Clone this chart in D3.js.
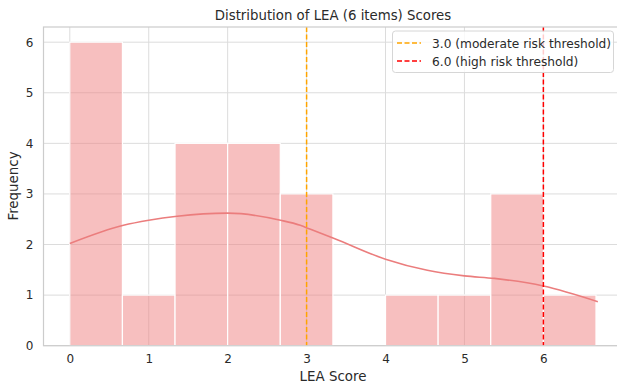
<!DOCTYPE html>
<html><head><meta charset="utf-8">
<script src="https://cdn.jsdelivr.net/npm/d3@7/dist/d3.min.js"></script>
<style>body{margin:0;background:#fff}svg{font-family:"DejaVu Sans",sans-serif}</style>
</head><body>
<script>
const binEdges = [0, 2/3, 4/3, 2, 8/3, 10/3, 4, 14/3, 16/3, 6, 20/3];
const counts = [6, 1, 4, 4, 3, 0, 1, 1, 3, 1];
const kdeX = [0, 0.68, 1, 1.36, 2, 2.67, 2.92, 3.05, 3.35, 4, 4.53, 5, 5.38, 6, 6.69];
const kdeY = [2.02, 2.38, 2.48, 2.56, 2.62, 2.48, 2.38, 2.30, 2.12, 1.71, 1.49, 1.38, 1.33, 1.18, 0.87];
const xTicks = [0, 1, 2, 3, 4, 5, 6];
const yTicks = [0, 1, 2, 3, 4, 5, 6];
const thresholds = [3.0, 6.0];
const thresholdLabels = ["3.0 (moderate risk threshold)", "6.0 (high risk threshold)"];
const thresholdColors = ["orange", "red"];

const W = 617, H = 383;
const svg = d3.select("body").append("svg").attr("width", W).attr("height", H);
const mLeft = 43.5, mTop = 27, mBottom = 345.7;
const x = d3.scaleLinear().domain([-1/3, 7]).range([mLeft, 70 + 7 * 78.9]);
const y = d3.scaleLinear().domain([0, 6.3]).range([mBottom, mTop]);

// grid
svg.append("g").selectAll("line").data(xTicks).join("line")
  .attr("x1", d => x(d)).attr("x2", d => x(d)).attr("y1", mTop).attr("y2", mBottom)
  .attr("stroke", "#dcdcdc").attr("stroke-width", 1);
svg.append("g").selectAll("line").data(yTicks).join("line")
  .attr("y1", d => y(d)).attr("y2", d => y(d)).attr("x1", mLeft).attr("x2", W)
  .attr("stroke", "#dcdcdc").attr("stroke-width", 1);

// bars
svg.append("g").selectAll("rect").data(counts).join("rect")
  .attr("x", (d, i) => x(binEdges[i]))
  .attr("width", (d, i) => x(binEdges[i + 1]) - x(binEdges[i]))
  .attr("y", d => y(d)).attr("height", d => y(0) - y(d))
  .attr("fill", "#f08080").attr("fill-opacity", 0.5)
  .attr("stroke", "#fff").attr("stroke-width", 1.2);

// kde
const line = d3.line().x(d => x(d[0])).y(d => y(d[1])).curve(d3.curveMonotoneX);
svg.append("path").datum(kdeX.map((v, i) => [v, kdeY[i]]))
  .attr("d", line).attr("fill", "none").attr("stroke", "#eb7d7d").attr("stroke-width", 1.6);

// thresholds
svg.append("g").selectAll("line").data(thresholds).join("line")
  .attr("x1", d => x(d)).attr("x2", d => x(d)).attr("y1", mTop).attr("y2", mBottom)
  .attr("stroke", (d, i) => thresholdColors[i]).attr("stroke-width", 1.5)
  .attr("stroke-dasharray", "5,2.5");

// frame
svg.append("rect").attr("x", mLeft).attr("y", mTop).attr("width", W + 10 - mLeft).attr("height", mBottom - mTop)
  .attr("fill", "none").attr("stroke", "#cccccc").attr("stroke-width", 1.2);

// axes labels
const xa = svg.append("g").attr("transform", `translate(0,${mBottom})`)
  .call(d3.axisBottom(x).tickValues(xTicks).tickSize(0).tickPadding(9).tickFormat(d3.format("d")));
xa.select(".domain").remove();
xa.selectAll("text").attr("font-size", 12).attr("fill", "#2a2a2a").attr("font-family", "DejaVu Sans");
const ya = svg.append("g").attr("transform", `translate(${mLeft},0)`)
  .call(d3.axisLeft(y).tickValues(yTicks).tickSize(0).tickPadding(10).tickFormat(d3.format("d")));
ya.select(".domain").remove();
ya.selectAll("text").attr("font-size", 12).attr("fill", "#2a2a2a").attr("font-family", "DejaVu Sans");

svg.append("text").attr("x", 333).attr("y", 20).attr("text-anchor", "middle")
  .attr("font-size", 13.3).attr("fill", "#2a2a2a").text("Distribution of LEA (6 items) Scores");
svg.append("text").attr("x", 333).attr("y", 380.5).attr("text-anchor", "middle")
  .attr("font-size", 13.4).attr("fill", "#2a2a2a").text("LEA Score");
svg.append("text").attr("transform", "translate(18,186) rotate(-90)").attr("text-anchor", "middle")
  .attr("font-size", 13.4).attr("fill", "#2a2a2a").text("Frequency");

// legend
const lg = svg.append("g");
lg.append("rect").attr("x", 392.5).attr("y", 31).attr("width", 221).attr("height", 41.5).attr("rx", 3)
  .attr("fill", "#fff").attr("fill-opacity", 0.8).attr("stroke", "#d6d6d6");
thresholdLabels.forEach((t, i) => {
  const yy = 43 + i * 18;
  lg.append("line").attr("x1", 397).attr("x2", 421).attr("y1", yy).attr("y2", yy)
    .attr("stroke", thresholdColors[i]).attr("stroke-width", 1.5).attr("stroke-dasharray", "5,2.5");
  lg.append("text").attr("x", 432).attr("y", yy + 4.5).attr("font-size", 12.2).attr("fill", "#2a2a2a").text(t);
});
</script>
</body></html>
